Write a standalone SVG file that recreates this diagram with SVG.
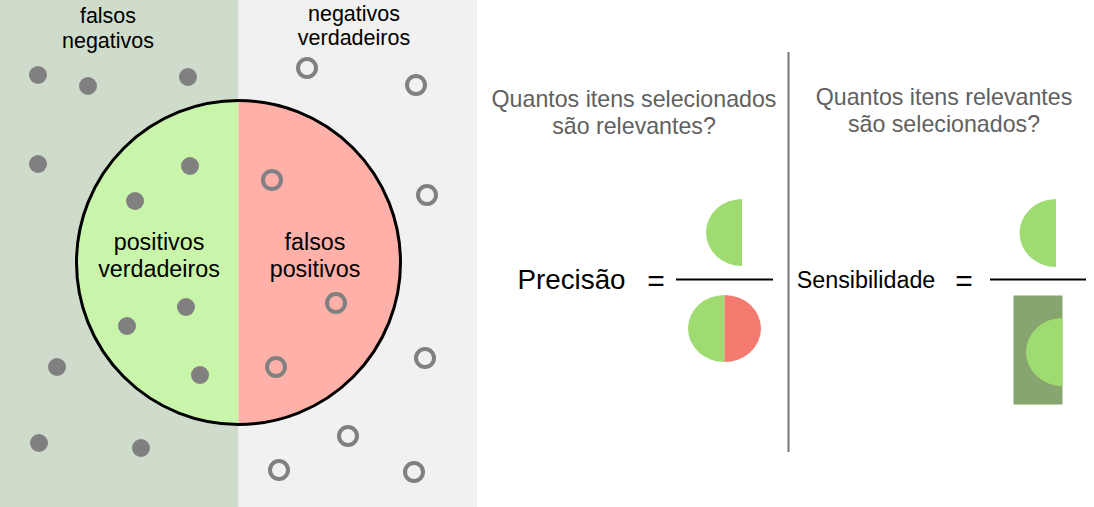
<svg xmlns="http://www.w3.org/2000/svg" width="1094" height="507" viewBox="0 0 1094 507">
<defs>
<style>
.t{font-family:"Liberation Sans",Arial,sans-serif;fill:#000;text-anchor:middle}
.q{font-family:"Liberation Sans",Arial,sans-serif;fill:#606060;text-anchor:middle;font-size:23.2px}
.dot{fill:#808080}
.ring{fill:none;stroke:#808080;stroke-width:4}
.g{fill:#9edc72}
.r{fill:#f47b6f}
.bar{stroke:#000;stroke-width:2}
</style>
<clipPath id="cl"><rect x="0" y="0" width="238.5" height="507"/></clipPath>
<clipPath id="cr"><rect x="238.5" y="0" width="300" height="507"/></clipPath>
</defs>
<rect width="1094" height="507" fill="#fff"/>
<g id="background">
<rect x="0" y="0" width="238.5" height="507" fill="#d0dccb"/>
<rect x="238.5" y="0" width="238.5" height="507" fill="#f1f1f1"/>
</g>
<g id="circle">
<circle cx="238.5" cy="262.5" r="162" fill="#c8f5aa" clip-path="url(#cl)"/>
<circle cx="238.5" cy="262.5" r="162" fill="#ffb1a9" clip-path="url(#cr)"/>
<circle cx="238.5" cy="262.5" r="162" fill="none" stroke="#000" stroke-width="3"/>
</g>
<g id="labels-left">
<text class="t" font-size="21.5" x="108" y="23">falsos</text>
<text class="t" font-size="21.5" x="108" y="48">negativos</text>
<text class="t" font-size="21.5" x="354" y="21">negativos</text>
<text class="t" font-size="21.5" x="354" y="45">verdadeiros</text>
<text class="t" font-size="23.3" x="159" y="250">positivos</text>
<text class="t" font-size="23.3" x="159" y="277">verdadeiros</text>
<text class="t" font-size="23.3" x="315" y="250">falsos</text>
<text class="t" font-size="23.3" x="315" y="277">positivos</text>
</g>
<g id="dots">
<circle class="dot" cx="38" cy="75" r="9"/>
<circle class="dot" cx="88" cy="86" r="9"/>
<circle class="dot" cx="188" cy="77" r="9"/>
<circle class="dot" cx="38" cy="164" r="9"/>
<circle class="dot" cx="190" cy="166" r="9"/>
<circle class="dot" cx="135" cy="201" r="9"/>
<circle class="dot" cx="186" cy="307" r="9"/>
<circle class="dot" cx="127" cy="326" r="9"/>
<circle class="dot" cx="57" cy="367" r="9"/>
<circle class="dot" cx="200" cy="375" r="9"/>
<circle class="dot" cx="39" cy="443" r="9"/>
<circle class="dot" cx="141" cy="448" r="9"/>
</g>
<g id="rings">
<circle class="ring" cx="307" cy="68" r="9"/>
<circle class="ring" cx="416" cy="85" r="9"/>
<circle class="ring" cx="272" cy="180" r="9"/>
<circle class="ring" cx="427" cy="195" r="9"/>
<circle class="ring" cx="336" cy="303" r="9"/>
<circle class="ring" cx="425" cy="358" r="9"/>
<circle class="ring" cx="276" cy="367" r="9"/>
<circle class="ring" cx="348" cy="436" r="9"/>
<circle class="ring" cx="279" cy="470" r="9"/>
<circle class="ring" cx="414" cy="472" r="9"/>
</g>
<g id="divider">
<line x1="788.5" y1="52" x2="788.5" y2="452" stroke="#777" stroke-width="2"/>
</g>
<g id="precision">
<text class="q" x="634" y="107">Quantos itens selecionados</text>
<text class="q" x="634" y="134">são relevantes?</text>
<text class="t" font-size="27.8" x="571.5" y="288.5">Precisão</text>
<text class="t" font-size="30" x="656" y="291">=</text>
<path class="g" d="M742,199 A36,33.5 0 0 0 742,266 Z"/>
<line class="bar" x1="676" y1="279.5" x2="773" y2="279.5"/>
<path class="g" d="M724.5,295 A36.5,33.5 0 0 0 724.5,362 Z"/>
<path class="r" d="M724.5,295 A36.5,33.5 0 0 1 724.5,362 Z"/>
</g>
<g id="recall">
<text class="q" x="944" y="105">Quantos itens relevantes</text>
<text class="q" x="944" y="132">são selecionados?</text>
<text class="t" font-size="23.3" x="866" y="288">Sensibilidade</text>
<text class="t" font-size="30" x="964" y="291">=</text>
<path class="g" d="M1056,199 A36.5,34 0 0 0 1056,267 Z"/>
<line class="bar" x1="990" y1="279.5" x2="1086" y2="279.5"/>
<rect x="1013.5" y="295.5" width="49" height="109" fill="#87a56f"/>
<path class="g" d="M1062.5,318 A36.5,34 0 0 0 1062.5,386 Z"/>
</g>
</svg>
